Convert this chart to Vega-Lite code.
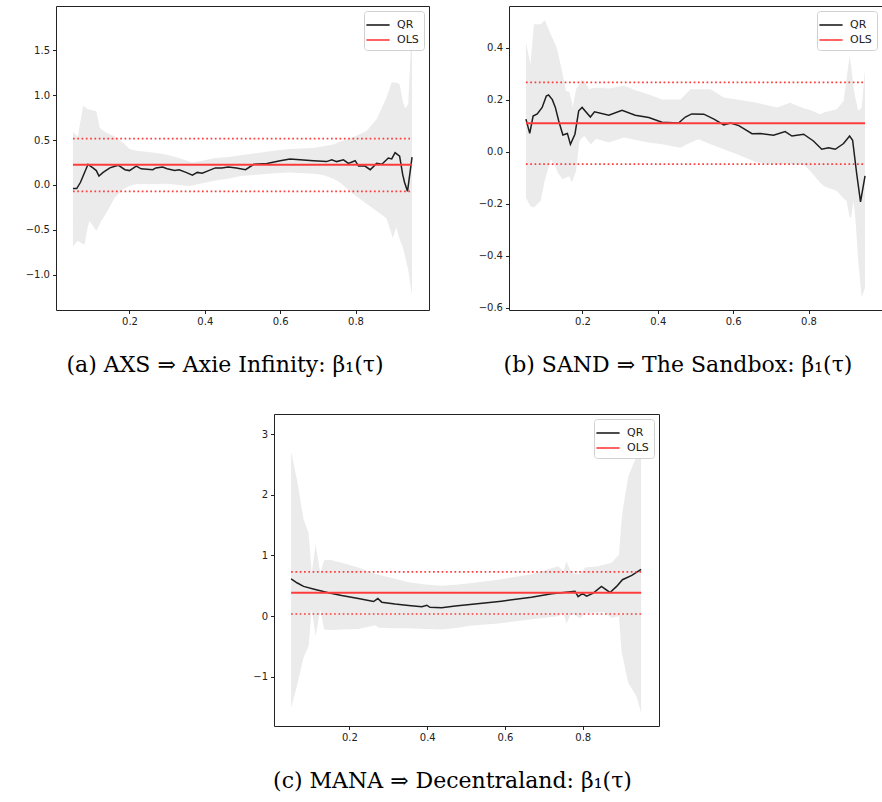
{
  "$schema": "https://vega.github.io/schema/vega-lite/v6.json",
  "padding": {"left": 20, "top": 5, "right": 0, "bottom": 0},
  "background": "white",
  "datasets": {
    "a_qr": [
      {"t":0.05,"b":-0.04},{"t":0.06,"b":-0.04},{"t":0.07,"b":0.03},{"t":0.08,"b":0.13},{"t":0.09,"b":0.23},
      {"t":0.103,"b":0.19},{"t":0.112,"b":0.16},{"t":0.119,"b":0.10},{"t":0.13,"b":0.14},{"t":0.148,"b":0.19},
      {"t":0.17,"b":0.22},{"t":0.188,"b":0.17},{"t":0.2,"b":0.16},{"t":0.218,"b":0.21},{"t":0.231,"b":0.18},
      {"t":0.262,"b":0.17},{"t":0.27,"b":0.19},{"t":0.288,"b":0.20},{"t":0.3,"b":0.18},{"t":0.32,"b":0.16},
      {"t":0.332,"b":0.17},{"t":0.35,"b":0.14},{"t":0.367,"b":0.11},{"t":0.38,"b":0.14},{"t":0.393,"b":0.13},
      {"t":0.41,"b":0.16},{"t":0.428,"b":0.19},{"t":0.445,"b":0.19},{"t":0.462,"b":0.20},{"t":0.484,"b":0.19},
      {"t":0.508,"b":0.17},{"t":0.53,"b":0.23},{"t":0.565,"b":0.24},{"t":0.6,"b":0.27},{"t":0.626,"b":0.29},
      {"t":0.653,"b":0.28},{"t":0.688,"b":0.27},{"t":0.723,"b":0.26},{"t":0.737,"b":0.28},{"t":0.75,"b":0.26},
      {"t":0.768,"b":0.28},{"t":0.781,"b":0.24},{"t":0.799,"b":0.27},{"t":0.808,"b":0.21},{"t":0.825,"b":0.21},
      {"t":0.839,"b":0.17},{"t":0.856,"b":0.24},{"t":0.87,"b":0.23},{"t":0.887,"b":0.30},{"t":0.896,"b":0.29},
      {"t":0.905,"b":0.36},{"t":0.917,"b":0.32},{"t":0.925,"b":0.12},{"t":0.93,"b":0.03},{"t":0.938,"b":-0.07},
      {"t":0.95,"b":0.31}
    ],
    "a_band": [
      {"t":0.05,"lo":-0.68,"hi":0.59},{"t":0.063,"lo":-0.62,"hi":0.54},{"t":0.077,"lo":-0.66,"hi":0.88},
      {"t":0.081,"lo":-0.66,"hi":0.87},{"t":0.09,"lo":-0.45,"hi":0.84},{"t":0.094,"lo":-0.40,"hi":0.84},
      {"t":0.112,"lo":-0.51,"hi":0.82},{"t":0.121,"lo":-0.44,"hi":0.64},{"t":0.125,"lo":-0.40,"hi":0.62},
      {"t":0.139,"lo":-0.31,"hi":0.58},{"t":0.161,"lo":-0.14,"hi":0.54},{"t":0.183,"lo":-0.05,"hi":0.47},
      {"t":0.2,"lo":-0.01,"hi":0.40},{"t":0.218,"lo":0.01,"hi":0.38},{"t":0.262,"lo":0.01,"hi":0.36},
      {"t":0.297,"lo":0.015,"hi":0.34},{"t":0.332,"lo":0.0,"hi":0.30},{"t":0.358,"lo":-0.01,"hi":0.26},
      {"t":0.367,"lo":-0.005,"hi":0.25},{"t":0.393,"lo":0.02,"hi":0.27},{"t":0.428,"lo":0.05,"hi":0.30},
      {"t":0.462,"lo":0.07,"hi":0.31},{"t":0.495,"lo":0.10,"hi":0.33},{"t":0.53,"lo":0.11,"hi":0.35},
      {"t":0.583,"lo":0.13,"hi":0.38},{"t":0.626,"lo":0.14,"hi":0.40},{"t":0.688,"lo":0.125,"hi":0.41},
      {"t":0.714,"lo":0.11,"hi":0.43},{"t":0.741,"lo":0.07,"hi":0.45},{"t":0.758,"lo":0.03,"hi":0.48},
      {"t":0.794,"lo":-0.10,"hi":0.53},{"t":0.829,"lo":-0.21,"hi":0.60},{"t":0.856,"lo":-0.29,"hi":0.73},
      {"t":0.882,"lo":-0.37,"hi":0.97},{"t":0.896,"lo":-0.55,"hi":1.14},{"t":0.899,"lo":-0.59,"hi":1.14},
      {"t":0.908,"lo":-0.47,"hi":1.14},{"t":0.917,"lo":-0.60,"hi":1.12},{"t":0.926,"lo":-0.70,"hi":0.92},
      {"t":0.932,"lo":-0.80,"hi":0.85},{"t":0.94,"lo":-0.95,"hi":0.90},{"t":0.95,"lo":-1.23,"hi":1.84}
    ],
    "a_ols": [{"x1":0.05,"x2":0.95,"ols":0.225,"lo":-0.07,"hi":0.515}],
    "b_qr": [
      {"t":0.05,"b":0.125},{"t":0.06,"b":0.07},{"t":0.069,"b":0.137},{"t":0.08,"b":0.145},{"t":0.093,"b":0.17},
      {"t":0.104,"b":0.214},{"t":0.11,"b":0.218},{"t":0.12,"b":0.20},{"t":0.128,"b":0.17},{"t":0.137,"b":0.118},
      {"t":0.148,"b":0.064},{"t":0.16,"b":0.07},{"t":0.168,"b":0.028},{"t":0.18,"b":0.067},{"t":0.19,"b":0.157},
      {"t":0.199,"b":0.17},{"t":0.221,"b":0.133},{"t":0.232,"b":0.153},{"t":0.27,"b":0.14},{"t":0.305,"b":0.159},
      {"t":0.34,"b":0.14},{"t":0.376,"b":0.131},{"t":0.411,"b":0.113},{"t":0.455,"b":0.11},{"t":0.473,"b":0.133},
      {"t":0.49,"b":0.145},{"t":0.522,"b":0.144},{"t":0.549,"b":0.125},{"t":0.575,"b":0.103},{"t":0.593,"b":0.11},
      {"t":0.615,"b":0.10},{"t":0.65,"b":0.069},{"t":0.672,"b":0.07},{"t":0.707,"b":0.063},{"t":0.738,"b":0.077},
      {"t":0.756,"b":0.06},{"t":0.787,"b":0.067},{"t":0.813,"b":0.041},{"t":0.835,"b":0.009},{"t":0.853,"b":0.015},
      {"t":0.871,"b":0.009},{"t":0.893,"b":0.031},{"t":0.909,"b":0.06},{"t":0.917,"b":0.044},{"t":0.928,"b":-0.087},
      {"t":0.938,"b":-0.193},{"t":0.95,"b":-0.093}
    ],
    "b_band": [
      {"t":0.05,"lo":-0.177,"hi":0.42},{"t":0.062,"lo":-0.21,"hi":0.336},{"t":0.071,"lo":-0.215,"hi":0.49},
      {"t":0.089,"lo":-0.19,"hi":0.49},{"t":0.1,"lo":-0.11,"hi":0.505},{"t":0.116,"lo":-0.03,"hi":0.45},
      {"t":0.129,"lo":-0.06,"hi":0.41},{"t":0.134,"lo":-0.08,"hi":0.387},{"t":0.147,"lo":-0.106,"hi":0.30},
      {"t":0.156,"lo":-0.10,"hi":0.233},{"t":0.165,"lo":-0.095,"hi":0.23},{"t":0.172,"lo":-0.119,"hi":0.19},
      {"t":0.174,"lo":-0.11,"hi":0.17},{"t":0.183,"lo":-0.074,"hi":0.24},{"t":0.192,"lo":0.041,"hi":0.26},
      {"t":0.196,"lo":0.05,"hi":0.275},{"t":0.205,"lo":0.06,"hi":0.272},{"t":0.218,"lo":0.035,"hi":0.24},
      {"t":0.223,"lo":0.028,"hi":0.243},{"t":0.236,"lo":0.05,"hi":0.246},{"t":0.27,"lo":0.035,"hi":0.243},
      {"t":0.31,"lo":0.054,"hi":0.253},{"t":0.341,"lo":0.045,"hi":0.236},{"t":0.376,"lo":0.035,"hi":0.22},
      {"t":0.411,"lo":0.028,"hi":0.2},{"t":0.46,"lo":0.015,"hi":0.2},{"t":0.487,"lo":0.035,"hi":0.24},
      {"t":0.508,"lo":0.048,"hi":0.24},{"t":0.54,"lo":0.028,"hi":0.24},{"t":0.575,"lo":0.009,"hi":0.208},
      {"t":0.61,"lo":-0.01,"hi":0.20},{"t":0.663,"lo":-0.042,"hi":0.188},{"t":0.716,"lo":-0.048,"hi":0.17},
      {"t":0.751,"lo":-0.048,"hi":0.188},{"t":0.787,"lo":-0.05,"hi":0.167},{"t":0.804,"lo":-0.074,"hi":0.16},
      {"t":0.831,"lo":-0.12,"hi":0.144},{"t":0.84,"lo":-0.132,"hi":0.15},{"t":0.875,"lo":-0.151,"hi":0.163},
      {"t":0.893,"lo":-0.18,"hi":0.195},{"t":0.901,"lo":-0.19,"hi":0.28},{"t":0.909,"lo":-0.25,"hi":0.368},
      {"t":0.913,"lo":-0.254,"hi":0.33},{"t":0.919,"lo":-0.19,"hi":0.25},{"t":0.924,"lo":-0.25,"hi":0.208},
      {"t":0.932,"lo":-0.42,"hi":0.157},{"t":0.941,"lo":-0.56,"hi":0.17},{"t":0.95,"lo":-0.523,"hi":0.317}
    ],
    "b_ols": [{"x1":0.05,"x2":0.95,"ols":0.109,"lo":-0.048,"hi":0.266}],
    "c_qr": [
      {"t":0.05,"b":0.615},{"t":0.065,"b":0.55},{"t":0.082,"b":0.49},{"t":0.112,"b":0.44},{"t":0.146,"b":0.385},
      {"t":0.18,"b":0.34},{"t":0.223,"b":0.29},{"t":0.262,"b":0.24},{"t":0.273,"b":0.29},{"t":0.283,"b":0.23},
      {"t":0.317,"b":0.20},{"t":0.352,"b":0.175},{"t":0.386,"b":0.155},{"t":0.399,"b":0.18},{"t":0.407,"b":0.145},
      {"t":0.437,"b":0.14},{"t":0.472,"b":0.165},{"t":0.51,"b":0.19},{"t":0.591,"b":0.247},{"t":0.668,"b":0.31},
      {"t":0.72,"b":0.37},{"t":0.78,"b":0.41},{"t":0.788,"b":0.32},{"t":0.799,"b":0.37},{"t":0.81,"b":0.33},
      {"t":0.827,"b":0.38},{"t":0.848,"b":0.49},{"t":0.87,"b":0.39},{"t":0.887,"b":0.49},{"t":0.902,"b":0.60},
      {"t":0.926,"b":0.67},{"t":0.95,"b":0.77}
    ],
    "c_band": [
      {"t":0.05,"lo":-1.51,"hi":2.71},{"t":0.065,"lo":-1.15,"hi":2.25},{"t":0.082,"lo":-0.68,"hi":1.59},
      {"t":0.095,"lo":-0.49,"hi":1.37},{"t":0.103,"lo":0.11,"hi":0.71},{"t":0.113,"lo":-0.33,"hi":1.18},
      {"t":0.125,"lo":0.11,"hi":0.71},{"t":0.135,"lo":-0.22,"hi":0.92},{"t":0.15,"lo":-0.23,"hi":0.93},
      {"t":0.18,"lo":-0.22,"hi":0.88},{"t":0.223,"lo":-0.21,"hi":0.80},{"t":0.266,"lo":-0.15,"hi":0.70},
      {"t":0.275,"lo":-0.19,"hi":0.68},{"t":0.309,"lo":-0.20,"hi":0.63},{"t":0.352,"lo":-0.20,"hi":0.56},
      {"t":0.394,"lo":-0.21,"hi":0.52},{"t":0.437,"lo":-0.22,"hi":0.50},{"t":0.48,"lo":-0.19,"hi":0.52},
      {"t":0.51,"lo":-0.16,"hi":0.54},{"t":0.583,"lo":-0.12,"hi":0.60},{"t":0.668,"lo":-0.05,"hi":0.69},
      {"t":0.737,"lo":0.0,"hi":0.82},{"t":0.75,"lo":0.05,"hi":0.74},{"t":0.758,"lo":-0.12,"hi":0.90},
      {"t":0.771,"lo":0.06,"hi":0.71},{"t":0.793,"lo":-0.04,"hi":0.69},{"t":0.806,"lo":0.05,"hi":0.80},
      {"t":0.84,"lo":0.06,"hi":0.82},{"t":0.857,"lo":0.06,"hi":0.85},{"t":0.874,"lo":-0.03,"hi":0.88},
      {"t":0.893,"lo":0.0,"hi":1.01},{"t":0.9,"lo":-0.6,"hi":1.59},{"t":0.904,"lo":-0.71,"hi":1.8},
      {"t":0.917,"lo":-1.10,"hi":2.30},{"t":0.938,"lo":-1.32,"hi":2.63},{"t":0.95,"lo":-1.59,"hi":3.1}
    ],
    "c_ols": [{"x1":0.05,"x2":0.95,"ols":0.385,"lo":0.035,"hi":0.73}]
  },
  "vconcat": [
    {
      "hconcat": [
        {
          "width": 373, "height": 304,
          "title": {"text": "(a) AXS ⇒ Axie Infinity: β₁(τ)"},
          "layer": [
            {"data": {"name": "a_band"}, "mark": {"type": "area", "color": "#ebebeb"},
             "encoding": {
               "x": {"field": "t", "type": "quantitative", "scale": {"domain": [0.005, 0.995], "nice": false, "zero": false}, "axis": {"values": [0.2, 0.4, 0.6, 0.8], "format": ".1f"}},
               "y": {"field": "lo", "type": "quantitative", "scale": {"domain": [-1.39, 1.99], "nice": false, "zero": false}, "axis": {"values": [-1, -0.5, 0, 0.5, 1, 1.5], "format": ".1f", "minExtent": 35, "maxExtent": 35}},
               "y2": {"field": "hi"}}},
            {"data": {"name": "a_qr"}, "mark": {"type": "line", "strokeWidth": 1.5},
             "encoding": {"x": {"field": "t", "type": "quantitative"}, "y": {"field": "b", "type": "quantitative"},
               "color": {"datum": "QR", "type": "nominal", "scale": {"domain": ["QR", "OLS"], "range": ["#1e1e1e", "#ff3c3c"]}, "legend": {"title": null}}}},
            {"data": {"name": "a_ols"}, "mark": {"type": "rule", "strokeWidth": 2},
             "encoding": {"x": {"field": "x1", "type": "quantitative"}, "x2": {"field": "x2"}, "y": {"field": "ols", "type": "quantitative"},
               "color": {"datum": "OLS", "type": "nominal"}}},
            {"data": {"name": "a_ols"}, "mark": {"type": "rule", "strokeWidth": 1.7, "strokeDash": [1.7, 2.6], "color": "#ff3c3c"},
             "encoding": {"x": {"field": "x1", "type": "quantitative"}, "x2": {"field": "x2"}, "y": {"field": "lo", "type": "quantitative"}}},
            {"data": {"name": "a_ols"}, "mark": {"type": "rule", "strokeWidth": 1.7, "strokeDash": [1.7, 2.6], "color": "#ff3c3c"},
             "encoding": {"x": {"field": "x1", "type": "quantitative"}, "x2": {"field": "x2"}, "y": {"field": "hi", "type": "quantitative"}}}
          ]
        },
        {
          "width": 373, "height": 304,
          "title": {"text": "(b) SAND ⇒ The Sandbox: β₁(τ)"},
          "layer": [
            {"data": {"name": "b_band"}, "mark": {"type": "area", "color": "#ebebeb"},
             "encoding": {
               "x": {"field": "t", "type": "quantitative", "scale": {"domain": [0.005, 0.995], "nice": false, "zero": false}, "axis": {"values": [0.2, 0.4, 0.6, 0.8], "format": ".1f"}},
               "y": {"field": "lo", "type": "quantitative", "scale": {"domain": [-0.609, 0.56], "nice": false, "zero": false}, "axis": {"values": [-0.6, -0.4, -0.2, 0, 0.2, 0.4], "format": ".1f", "minExtent": 35, "maxExtent": 35}},
               "y2": {"field": "hi"}}},
            {"data": {"name": "b_qr"}, "mark": {"type": "line", "strokeWidth": 1.5},
             "encoding": {"x": {"field": "t", "type": "quantitative"}, "y": {"field": "b", "type": "quantitative"},
               "color": {"datum": "QR", "type": "nominal", "scale": {"domain": ["QR", "OLS"], "range": ["#1e1e1e", "#ff3c3c"]}, "legend": {"title": null}}}},
            {"data": {"name": "b_ols"}, "mark": {"type": "rule", "strokeWidth": 2},
             "encoding": {"x": {"field": "x1", "type": "quantitative"}, "x2": {"field": "x2"}, "y": {"field": "ols", "type": "quantitative"},
               "color": {"datum": "OLS", "type": "nominal"}}},
            {"data": {"name": "b_ols"}, "mark": {"type": "rule", "strokeWidth": 1.7, "strokeDash": [1.7, 2.6], "color": "#ff3c3c"},
             "encoding": {"x": {"field": "x1", "type": "quantitative"}, "x2": {"field": "x2"}, "y": {"field": "lo", "type": "quantitative"}}},
            {"data": {"name": "b_ols"}, "mark": {"type": "rule", "strokeWidth": 1.7, "strokeDash": [1.7, 2.6], "color": "#ff3c3c"},
             "encoding": {"x": {"field": "x1", "type": "quantitative"}, "x2": {"field": "x2"}, "y": {"field": "hi", "type": "quantitative"}}}
          ]
        }
      ],
      "spacing": 43,
      "resolve": {"scale": {"color": "independent"}, "legend": {"color": "independent"}}
    },
    {
      "hconcat": [
        {
          "width": 193, "height": 10,
          "data": {"values": []},
          "mark": {"type": "point", "opacity": 0},
          "encoding": {},
          "view": {"stroke": null}
        },
        {
          "width": 385, "height": 312,
          "title": {"text": "(c) MANA ⇒ Decentraland: β₁(τ)", "frame": "group", "dx": -14},
          "layer": [
            {"data": {"name": "c_band"}, "mark": {"type": "area", "color": "#ebebeb"},
             "encoding": {
               "x": {"field": "t", "type": "quantitative", "scale": {"domain": [0.006, 0.996], "nice": false, "zero": false}, "axis": {"values": [0.2, 0.4, 0.6, 0.8], "format": ".1f"}},
               "y": {"field": "lo", "type": "quantitative", "scale": {"domain": [-1.81, 3.33], "nice": false, "zero": false}, "axis": {"values": [-1, 0, 1, 2, 3], "format": "d", "minExtent": 24, "maxExtent": 24}},
               "y2": {"field": "hi"}}},
            {"data": {"name": "c_qr"}, "mark": {"type": "line", "strokeWidth": 1.5},
             "encoding": {"x": {"field": "t", "type": "quantitative"}, "y": {"field": "b", "type": "quantitative"},
               "color": {"datum": "QR", "type": "nominal", "scale": {"domain": ["QR", "OLS"], "range": ["#1e1e1e", "#ff3c3c"]}, "legend": {"title": null}}}},
            {"data": {"name": "c_ols"}, "mark": {"type": "rule", "strokeWidth": 2},
             "encoding": {"x": {"field": "x1", "type": "quantitative"}, "x2": {"field": "x2"}, "y": {"field": "ols", "type": "quantitative"},
               "color": {"datum": "OLS", "type": "nominal"}}},
            {"data": {"name": "c_ols"}, "mark": {"type": "rule", "strokeWidth": 1.7, "strokeDash": [1.7, 2.6], "color": "#ff3c3c"},
             "encoding": {"x": {"field": "x1", "type": "quantitative"}, "x2": {"field": "x2"}, "y": {"field": "lo", "type": "quantitative"}}},
            {"data": {"name": "c_ols"}, "mark": {"type": "rule", "strokeWidth": 1.7, "strokeDash": [1.7, 2.6], "color": "#ff3c3c"},
             "encoding": {"x": {"field": "x1", "type": "quantitative"}, "x2": {"field": "x2"}, "y": {"field": "hi", "type": "quantitative"}}}
          ]
        }
      ],
      "spacing": 0,
      "resolve": {"scale": {"color": "independent"}, "legend": {"color": "independent"}}
    }
  ],
  "spacing": 37,
  "resolve": {"scale": {"color": "independent"}, "legend": {"color": "independent"}},
  "config": {
    "view": {"stroke": "#222", "strokeWidth": 1},
    "axis": {"domain": false, "grid": false, "tickSize": 3.5, "tickColor": "#222", "labelColor": "#222", "labelFont": "DejaVu Sans", "labelFontSize": 10, "labelPadding": 3, "title": null},
    "legend": {"orient": "top-right", "offset": 5, "padding": 5, "fillColor": "white", "strokeColor": "#d0d0d0", "cornerRadius": 3, "symbolType": "M-1.45,0H1.45", "symbolSize": 256, "symbolStrokeWidth": 1.6, "labelFont": "DejaVu Sans", "labelFontSize": 11, "labelColor": "#222", "labelOffset": 10, "rowPadding": 1},
    "title": {"font": "DejaVu Serif", "fontSize": 22, "fontWeight": "normal", "color": "black", "orient": "bottom", "anchor": "middle", "frame": "bounds", "offset": 28}
  }
}
